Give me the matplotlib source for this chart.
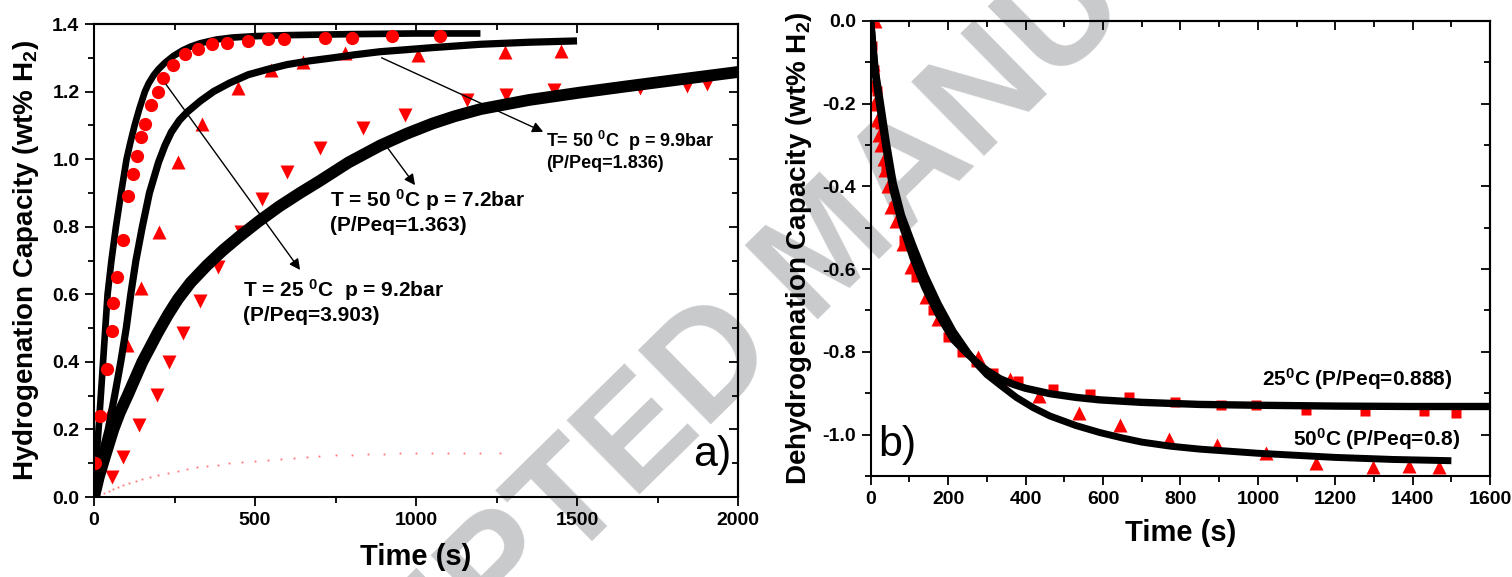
import matplotlib
matplotlib.use('Agg')
import matplotlib.pyplot as plt
from matplotlib.ticker import MultipleLocator

plt.rcParams['font.family'] = ['Liberation Sans', 'DejaVu Sans']
plt.rcParams['font.weight'] = 'bold'
plt.rcParams['axes.labelweight'] = 'bold'
plt.rcParams['mathtext.fontset'] = 'custom'
plt.rcParams['mathtext.rm'] = 'Liberation Sans:bold'
plt.rcParams['mathtext.it'] = 'Liberation Sans:bold:italic'
plt.rcParams['mathtext.bf'] = 'Liberation Sans:bold'
plt.rcParams['axes.unicode_minus'] = False

# ---- a) hydrogenation, fitted curves ----
t_fit25 = [0, 6, 14, 21, 28, 35, 42, 54, 68, 84, 101, 113, 126, 141, 158, 170, 185, 200, 220, 246, 275,
           300, 330, 380, 430, 500, 600, 800, 1000, 1200]
y_fit25 = [0, 0.1, 0.2, 0.3, 0.4, 0.5, 0.6, 0.7, 0.8, 0.9, 1.0, 1.05, 1.1, 1.15, 1.2, 1.225, 1.248, 1.266,
           1.285, 1.305, 1.322, 1.333, 1.343, 1.354, 1.36, 1.364, 1.367, 1.37, 1.372, 1.372]

t_fit50a = [0, 10, 25, 44, 64, 83, 100, 114, 130, 150, 172, 200, 220, 240, 265, 290, 330, 371, 420, 479,
            540, 600, 670, 743, 810, 888, 970, 1050, 1200, 1350, 1500]
y_fit50a = [0, 0.06, 0.13, 0.2, 0.3, 0.4, 0.5, 0.6, 0.7, 0.8, 0.9, 0.99, 1.04, 1.08, 1.115, 1.14, 1.172,
            1.2, 1.225, 1.25, 1.266, 1.28, 1.291, 1.30, 1.309, 1.318, 1.324, 1.33, 1.34, 1.346, 1.35]

t_fit50b = [0, 15, 34, 60, 80, 104, 127, 150, 175, 197, 230, 260, 300, 350, 400, 450, 510, 575, 640, 700,
            790, 888, 970, 1050, 1120, 1200, 1350, 1509, 1650, 1820, 2000]
y_fit50b = [0, 0.06, 0.12, 0.2, 0.25, 0.3, 0.35, 0.4, 0.445, 0.485, 0.54, 0.585, 0.635, 0.685, 0.73,
            0.77, 0.815, 0.86, 0.9, 0.935, 0.99, 1.04, 1.075, 1.105, 1.127, 1.148, 1.175, 1.197, 1.215,
            1.236, 1.258]

# ---- a) measured points ----
t_dat25 = [3, 19, 39, 55, 60, 70, 89, 107, 120, 133, 145, 158, 176, 200, 215, 246, 281, 322, 367,
           412, 479, 541, 590, 717, 800, 925, 1075]
y_dat25 = [0.10, 0.24, 0.38, 0.49, 0.575, 0.65, 0.76, 0.89, 0.955, 1.01, 1.065, 1.105, 1.16, 1.20, 1.24,
           1.28, 1.31, 1.325, 1.34, 1.345, 1.35, 1.355, 1.357, 1.36, 1.36, 1.365, 1.365]

t_dat50a = [20, 50, 101, 145, 203, 262, 334, 448, 550, 648, 779, 1007, 1276, 1450]
y_dat50a = [0.12, 0.252, 0.45, 0.62, 0.785, 0.992, 1.104, 1.212, 1.263, 1.288, 1.313, 1.308, 1.316, 1.32]

t_dat50b = [55, 91, 141, 195, 234, 277, 329, 386, 456, 521, 600, 702, 834, 966, 1159, 1280, 1430,
            1696, 1841, 1903]
y_dat50b = [0.06, 0.119, 0.213, 0.302, 0.40, 0.484, 0.581, 0.681, 0.785, 0.881, 0.962, 1.032, 1.091,
            1.130, 1.175, 1.189, 1.206, 1.212, 1.216, 1.222]

# faint dotted trace near the bottom of a)
t_faint = [0, 15, 30, 45, 60, 75, 90, 110, 130, 150, 175, 200, 230, 260, 290, 320, 350, 385, 420, 460,
           500, 540, 580, 620, 660, 700, 750, 800, 850, 900, 950, 1000, 1050, 1100, 1150, 1200, 1260]
y_faint = [0, 0.006, 0.012, 0.018, 0.024, 0.03, 0.035, 0.042, 0.048, 0.054, 0.06, 0.066, 0.072, 0.078,
           0.083, 0.088, 0.092, 0.096, 0.1, 0.103, 0.106, 0.109, 0.112, 0.115, 0.118, 0.12, 0.123, 0.125,
           0.127, 0.128, 0.129, 0.13, 0.13, 0.13, 0.131, 0.131, 0.131]

# ---- b) dehydrogenation ----
t_b25 = [0, 5, 12, 24, 40, 58, 80, 110, 140, 175, 213, 250, 275, 300, 334, 370, 400, 463, 530, 592, 700,
         850, 1000, 1200, 1400, 1600]
v_b25 = [0, -0.06, -0.13, -0.21, -0.31, -0.41, -0.49, -0.575, -0.645, -0.71, -0.77, -0.805, -0.826,
         -0.845, -0.865, -0.879, -0.888, -0.901, -0.91, -0.916, -0.922, -0.927, -0.929, -0.931, -0.932,
         -0.932]
t_b50 = [0, 5, 12, 24, 40, 58, 80, 110, 140, 175, 213, 250, 275, 300, 334, 376, 420, 463, 530, 592, 650,
         700, 775, 850, 1000, 1200, 1350, 1500]
v_b50 = [0, -0.05, -0.12, -0.19, -0.29, -0.39, -0.47, -0.545, -0.615, -0.685, -0.75, -0.80, -0.83,
         -0.855, -0.88, -0.91, -0.935, -0.955, -0.978, -0.995, -1.008, -1.018, -1.028, -1.035, -1.045,
         -1.055, -1.06, -1.063]

t_sq = [2, 8, 15, 25, 40, 60, 85, 118, 160, 200, 235, 273, 316, 381, 472, 567, 668, 786, 906, 996,
        1125, 1276, 1430, 1511]
v_sq = [-0.06, -0.12, -0.17, -0.25, -0.35, -0.45, -0.53, -0.62, -0.70, -0.765, -0.80, -0.825, -0.852,
        -0.871, -0.89, -0.902, -0.91, -0.921, -0.929, -0.929, -0.94, -0.943, -0.944, -0.948]
t_tri = [12, 6, 7, 8, 16, 22, 27, 33, 38, 45, 53, 66, 82, 105, 144, 175, 278, 359, 435, 537, 643, 771,
         894, 1020, 1151, 1297, 1390, 1467]
v_tri = [0.0, -0.105, -0.155, -0.20, -0.24, -0.275, -0.30, -0.335, -0.36, -0.40, -0.45, -0.485, -0.54,
         -0.595, -0.667, -0.72, -0.813, -0.866, -0.906, -0.948, -0.976, -1.01, -1.026, -1.045, -1.069,
         -1.079, -1.075, -1.079]


def style(ax, xmaj, xmin, ymaj, ymin):
    ax.set_facecolor('none')
    for s in ax.spines.values():
        s.set_linewidth(1.5)
    ax.xaxis.set_major_locator(MultipleLocator(xmaj))
    ax.xaxis.set_minor_locator(MultipleLocator(xmin))
    ax.yaxis.set_major_locator(MultipleLocator(ymaj))
    ax.yaxis.set_minor_locator(MultipleLocator(ymin))
    ax.tick_params(which='both', direction='out', width=1.3, labelsize=14, pad=4)
    ax.tick_params(which='major', length=6.5)
    ax.tick_params(which='minor', length=4)
    # inward ticks on top and right, Origin style
    top = ax.secondary_xaxis('top')
    top.xaxis.set_major_locator(MultipleLocator(xmaj))
    top.xaxis.set_minor_locator(MultipleLocator(xmin))
    top.tick_params(which='both', direction='in', labeltop=False, width=1.3)
    top.tick_params(which='major', length=6.5)
    top.tick_params(which='minor', length=4)
    right = ax.secondary_yaxis('right')
    right.yaxis.set_major_locator(MultipleLocator(ymaj))
    right.yaxis.set_minor_locator(MultipleLocator(ymin))
    right.tick_params(which='both', direction='in', labelright=False, width=1.3)
    right.tick_params(which='major', length=6.5)
    right.tick_params(which='minor', length=4)
    for sa in (top, right):
        for s in sa.spines.values():
            s.set_linewidth(1.5)


fig = plt.figure(figsize=(15.12, 5.77), dpi=100)

fig.text(0.55, 0.565, 'ACCEPTED MANUSCRIPT', rotation=44.5, fontsize=108, color='#c9cacc',
         ha='center', va='center', weight='bold', zorder=-1)

ax1 = fig.add_axes([0.0622, 0.1386, 0.4259, 0.8198])
ax2 = fig.add_axes([0.5759, 0.175, 0.4096, 0.789])

# panel a
ax1.plot(t_faint, y_faint, ls='none', marker='.', ms=1.5, color='red', alpha=0.35)
ax1.plot(t_dat50b, y_dat50b, ls='none', marker='v', ms=10, color='red', mec='none')
ax1.plot(t_dat50a, y_dat50a, ls='none', marker='^', ms=10, color='red', mec='none')
ax1.plot(t_fit50b, y_fit50b, color='black', lw=8.5, solid_capstyle='butt')
ax1.plot(t_fit50a, y_fit50a, color='black', lw=5.2, solid_capstyle='butt')
ax1.plot(t_fit25, y_fit25, color='black', lw=4.8, solid_capstyle='butt')
ax1.plot(t_dat25, y_dat25, ls='none', marker='o', ms=9.5, color='red', mec='none')

ax1.set_xlim(0, 2000)
ax1.set_ylim(0, 1.4)
style(ax1, 500, 250, 0.2, 0.1)
ax1.set_xlabel('Time (s)', fontsize=21, labelpad=10)
ax1.set_ylabel('Hydrogenation Capacity (wt% H$_2$)', fontsize=20, labelpad=8)

arrow = dict(arrowstyle='-|>', color='black', lw=1, mutation_scale=16, shrinkA=0, shrinkB=0)
ax1.annotate('', xy=(1395, 1.081), xytext=(893, 1.30), arrowprops=arrow)
ax1.annotate('', xy=(997, 0.923), xytext=(909, 1.037), arrowprops=arrow)
ax1.annotate('', xy=(640, 0.672), xytext=(223, 1.222), arrowprops=arrow)

ax1.text(1404, 1.036, r'T= 50 $^0$C  p = 9.9bar', fontsize=13, va='baseline')
ax1.text(1404, 0.975, '(P/Peq=1.836)', fontsize=13, va='baseline')
ax1.text(733, 0.859, r'T = 50 $^0$C p = 7.2bar', fontsize=15, va='baseline')
ax1.text(733, 0.787, '(P/Peq=1.363)', fontsize=15, va='baseline')
ax1.text(463, 0.594, r'T = 25 $^0$C  p = 9.2bar', fontsize=15, va='baseline')
ax1.text(463, 0.52, '(P/Peq=3.903)', fontsize=15, va='baseline')
ax1.text(0.99, 0.0655, 'a)', transform=ax1.transAxes, fontsize=31, weight='normal',
         ha='right', va='baseline')

# panel b
ax2.plot(t_sq, v_sq, ls='none', marker='s', ms=7.5, color='red', mec='none')
ax2.plot(t_tri, v_tri, ls='none', marker='^', ms=10, color='red', mec='none')
ax2.plot(t_b25, v_b25, color='black', lw=5.3, solid_capstyle='butt')
ax2.plot(t_b50, v_b50, color='black', lw=5.0, solid_capstyle='butt')

ax2.set_xlim(0, 1600)
ax2.set_ylim(-1.1, 0)
style(ax2, 200, 100, 0.2, 0.1)
ax2.set_xlabel('Time (s)', fontsize=21, labelpad=8)
ax2.set_ylabel('Dehydrogenation Capacity (wt% H$_2$)', fontsize=20, labelpad=6)

ax2.text(1010, -0.883, r'25$^0$C (P/Peq=0.888)', fontsize=15, va='baseline')
ax2.text(1090, -1.026, r'50$^0$C (P/Peq=0.8)', fontsize=15, va='baseline')
ax2.text(0.012, 0.043, 'b)', transform=ax2.transAxes, fontsize=31, weight='normal',
         ha='left', va='baseline')

fig.savefig('out.png', dpi=100)
